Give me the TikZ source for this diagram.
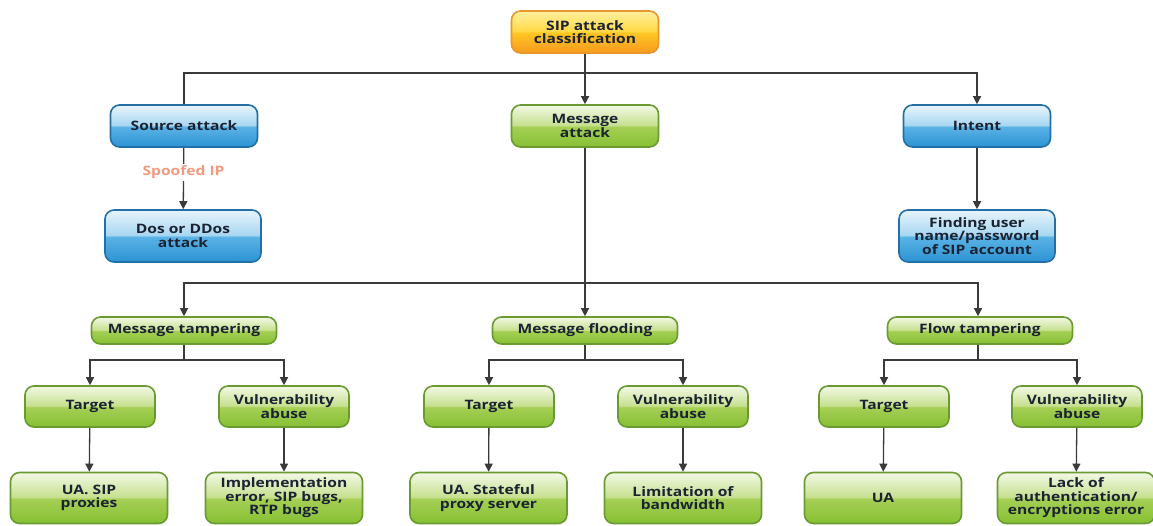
\documentclass[tikz,border=0pt]{standalone}
\usepackage{fontspec}
\setmainfont{Open Sans}[FakeStretch=1.2]
\usepackage{tikz}
\usetikzlibrary{arrows.meta}

\definecolor{grnT}{HTML}{F3F9E6}
\definecolor{grnU}{HTML}{C6E08F}
\definecolor{grnM}{HTML}{A5CF55}
\definecolor{grnB}{HTML}{86C033}
\definecolor{grnD}{HTML}{6B9A33}
\definecolor{bluT}{HTML}{E8F5FC}
\definecolor{bluU}{HTML}{A8D7F1}
\definecolor{bluM}{HTML}{5AB2E5}
\definecolor{bluB}{HTML}{2C93D3}
\definecolor{bluD}{HTML}{2470A6}
\definecolor{orT}{HTML}{FFEFA0}
\definecolor{orU}{HTML}{FFDA45}
\definecolor{orM}{HTML}{FFC624}
\definecolor{orB}{HTML}{F79A1E}
\definecolor{orD}{HTML}{E8962E}
\definecolor{ink}{HTML}{1B2333}
\definecolor{wire}{HTML}{3A3A3A}
\definecolor{spoof}{HTML}{F29A80}

\pgfdeclareverticalshading{glossgrn}{100bp}{color(0bp)=(grnB); color(25bp)=(grnB); color(49bp)=(grnM); color(51bp)=(grnU); color(75bp)=(grnT); color(100bp)=(grnT)}
\pgfdeclareverticalshading{glossblu}{100bp}{color(0bp)=(bluB); color(25bp)=(bluB); color(49bp)=(bluM); color(51bp)=(bluU); color(75bp)=(bluT); color(100bp)=(bluT)}
\pgfdeclareverticalshading{glossor}{100bp}{color(0bp)=(orB); color(25bp)=(orB); color(49bp)=(orM); color(51bp)=(orU); color(75bp)=(orT); color(100bp)=(orT)}

\begin{document}
\begin{tikzpicture}[x=1pt,y=-1pt,
  box/.style={draw, rounded corners=9pt, line width=1.6pt, align=center, inner sep=2pt,
    text=ink, font=\fontsize{13}{13.5}\selectfont\bfseries},
  grnbox/.style={box, draw=grnD, shading=glossgrn},
  blubox/.style={box, draw=bluD, shading=glossblu},
  orbox/.style={box, draw=orD, shading=glossor},
  topsize/.style={minimum width=147pt, minimum height=42pt},
  subsize/.style={minimum width=156pt, minimum height=52pt},
  barsize/.style={minimum width=185pt, minimum height=27pt},
  midsize/.style={minimum width=130pt, minimum height=41pt},
  leafsize/.style={minimum width=157pt, minimum height=51pt},
  wire/.style={draw=wire, line width=1.3pt},
  arr/.style={wire, -{Triangle[length=8pt,width=8pt]}}]
\useasboundingbox (0,0) rectangle (1153,525);

\node[orbox, topsize] (root) at (585,32) {SIP attack\\classification};
\node[blubox, topsize] (src) at (184,126) {Source attack};
\node[grnbox, topsize] (msg) at (585,126) {Message\\attack};
\node[blubox, topsize] (intent) at (977,126) {Intent};
\node[blubox, subsize] (dos) at (183,236) {Dos or DDos\\attack};
\node[blubox, subsize] (find) at (977,236) {Finding user\\name/password\\of SIP account};

\node[grnbox, barsize] (tamper) at (184,330.5) {Message tampering};
\node[grnbox, barsize] (flood) at (585,330.5) {Message flooding};
\node[grnbox, barsize] (flow) at (980,330.5) {Flow tampering};

\node[grnbox, midsize] (tgtA) at (90,406.5) {Target};
\node[grnbox, midsize] (vulA) at (284,406.5) {Vulnerability\\abuse};
\node[grnbox, midsize] (tgtB) at (489,406.5) {Target};
\node[grnbox, midsize] (vulB) at (683,406.5) {Vulnerability\\abuse};
\node[grnbox, midsize] (tgtC) at (884,406.5) {Target};
\node[grnbox, midsize] (vulC) at (1077,406.5) {Vulnerability\\abuse};

\node[grnbox, leafsize] (uaA) at (89,498) {UA. SIP\\proxies};
\node[grnbox, leafsize] (bugA) at (284,498) {Implementation\\error, SIP bugs,\\RTP bugs};
\node[grnbox, leafsize] (uaB) at (488.5,498) {UA. Stateful\\proxy server};
\node[grnbox, leafsize] (bwB) at (683,498) {Limitation of\\bandwidth};
\node[grnbox, leafsize] (uaC) at (883,498) {UA};
\node[grnbox, leafsize] (authC) at (1076,498) {Lack of\\authentication/\\encryptions error};

\coordinate (topbus) at (585,73);
\coordinate (msgbus) at (585,283);
\coordinate (tamperbus) at (184,360);
\coordinate (floodbus) at (585,360);
\coordinate (flowbus) at (978,360);

\draw[arr] (root) -- (msg);
\draw[wire] (topbus) -| (src.north);
\draw[arr] (topbus) -| (intent.north);
\draw[arr] (src) -- node[pos=0.4, fill=white, text=spoof, inner sep=2pt,
  font=\fontsize{13}{14}\selectfont\bfseries] (spooflbl) {Spoofed IP} (dos);
\draw[arr] (intent) -- (find);

\draw[arr] (msg) -- (flood);
\draw[arr] (msgbus) -| (tamper.north);
\draw[arr] (msgbus) -| (flow.north -| flowbus);

\draw[wire] (tamper) -- (tamperbus);
\draw[arr] (tamperbus) -| (tgtA.north);
\draw[arr] (tamperbus) -| (vulA.north);
\draw[wire] (flood) -- (floodbus);
\draw[arr] (floodbus) -| (tgtB.north);
\draw[arr] (floodbus) -| (vulB.north);
\draw[wire] (flow.south -| flowbus) -- (flowbus);
\draw[arr] (flowbus) -| (tgtC.north);
\draw[arr] (flowbus) -| (vulC.north);

\draw[arr] (tgtA) -- (uaA);
\draw[arr] (vulA) -- (bugA);
\draw[arr] (tgtB) -- (uaB);
\draw[arr] (vulB) -- (bwB);
\draw[arr] (tgtC) -- (uaC);
\draw[arr] (vulC) -- (authC);
\end{tikzpicture}
\end{document}
